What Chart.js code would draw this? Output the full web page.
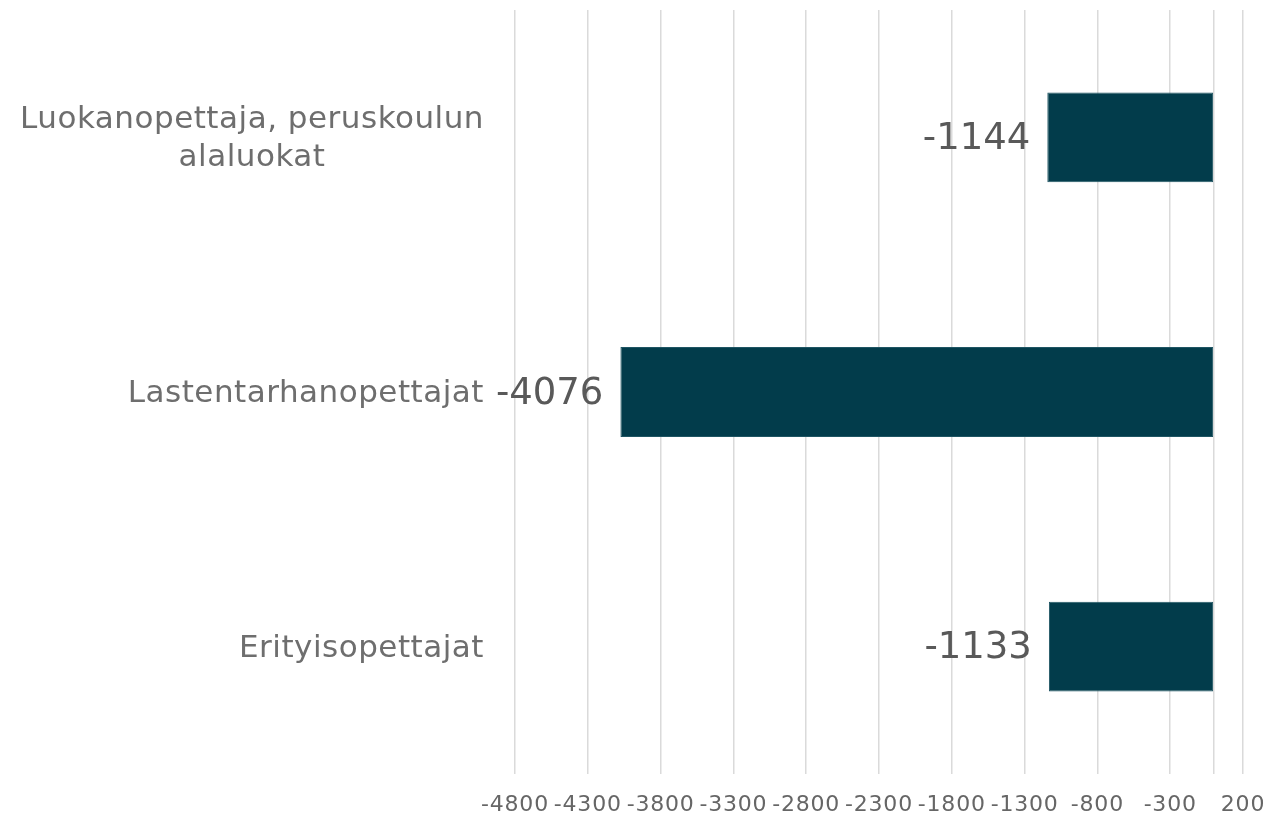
<!DOCTYPE html>
<html>
<head>
<meta charset="utf-8">
<script src="https://cdn.jsdelivr.net/npm/chart.js@4"></script>
<style>
  html, body { margin: 0; padding: 0; background: #fff; }
  #wrap { width: 1268px; height: 817px; }
</style>
</head>
<body>
<div id="wrap"><canvas id="chart" width="1268" height="817"></canvas></div>
<script>
// Data
const categories = [
  ['Luokanopettaja, peruskoulun', 'alaluokat'],
  ['Lastentarhanopettajat'],
  ['Erityisopettajat']
];
const values = [-1144, -4076, -1133];
const xTicks = [-4800, -4300, -3800, -3300, -2800, -2300, -1800, -1300, -800, -300, 200];

const FONT = '"DejaVu Sans", Verdana, sans-serif';

// slightly wider text for the axis tick labels
const spacing = {
  id: 'spacing',
  beforeDraw(chart) { chart.ctx.letterSpacing = '0.8px'; }
};

// Category labels: lines centred on each other, block right-aligned to the axis
const categoryLabels = {
  id: 'categoryLabels',
  afterDraw(chart) {
    const { ctx, scales: { y }, chartArea } = chart;
    ctx.save();
    ctx.letterSpacing = '0.5px';
    ctx.font = '31px ' + FONT;
    ctx.fillStyle = '#6e6e6e';
    ctx.textAlign = 'center';
    ctx.textBaseline = 'middle';
    const lineH = 38;
    const right = chartArea.left - 31;
    categories.forEach((lines, i) => {
      const cy = y.getPixelForValue(i) + 2;
      const w = Math.max(...lines.map(l => ctx.measureText(l).width));
      const cx = right - w / 2;
      const top = cy - (lines.length - 1) * lineH / 2;
      lines.forEach((l, j) => ctx.fillText(l, cx, top + j * lineH));
    });
    ctx.restore();
  }
};

// Value labels to the left of the bars
const valueLabels = {
  id: 'valueLabels',
  afterDatasetsDraw(chart) {
    const { ctx } = chart;
    const meta = chart.getDatasetMeta(0);
    ctx.save();
    ctx.letterSpacing = '0px';
    ctx.font = '37px ' + FONT;
    ctx.fillStyle = '#595959';
    ctx.textAlign = 'right';
    ctx.textBaseline = 'middle';
    meta.data.forEach((bar, i) => {
      ctx.fillText(String(values[i]), bar.x - 17, bar.y + 2);
    });
    ctx.restore();
  }
};

new Chart(document.getElementById('chart'), {
  type: 'bar',
  data: {
    labels: categories.map(c => c.join(' ')),
    datasets: [{
      data: values,
      backgroundColor: '#023c4b',
      borderColor: '#1f5563',
      borderWidth: 1,
      borderSkipped: false,
      barPercentage: 0.353,
      categoryPercentage: 1
    }]
  },
  options: {
    indexAxis: 'y',
    responsive: false,
    animation: false,
    layout: { padding: { top: 10, right: 25, bottom: 0, left: 0 } },
    plugins: {
      legend: { display: false },
      tooltip: { enabled: false }
    },
    scales: {
      x: {
        min: -4800,
        max: 200,
        afterBuildTicks(scale) {
          scale.ticks = xTicks.concat([0]).map(v => ({ value: v }));
        },
        afterFit(scale) { scale.height = 43; },
        grid: { color: '#dadada', lineWidth: 1.5, drawTicks: false },
        border: { display: false },
        ticks: {
          autoSkip: false,
          maxRotation: 0,
          padding: 20,
          color: '#666666',
          font: { family: FONT, size: 22, lineHeight: 1 },
          callback: v => (xTicks.includes(v) ? String(v) : '')
        }
      },
      y: {
        grid: { display: false },
        border: { display: false },
        ticks: { display: false },
        afterFit(scale) { scale.width = 515; }
      }
    }
  },
  plugins: [spacing, categoryLabels, valueLabels]
});
</script>
</body>
</html>
